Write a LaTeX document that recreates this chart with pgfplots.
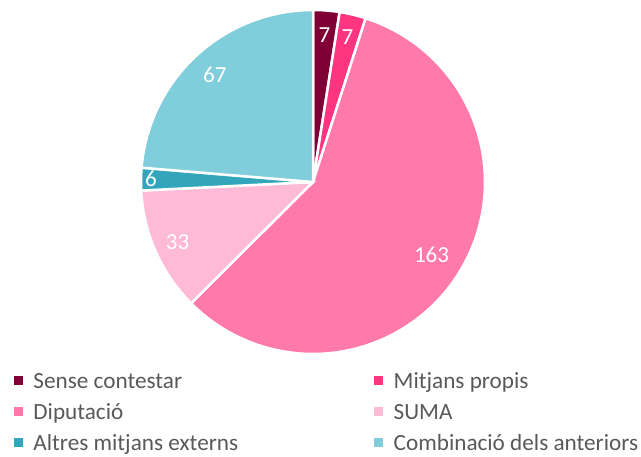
\documentclass[border=0pt]{standalone}
\usepackage{pgfplots}
\usepackage{pgfplotstable}
\pgfplotsset{compat=1.18}
\usepackage{fontspec}
\setmainfont{Carlito}
\definecolor{cA}{HTML}{7E0035}
\definecolor{cB}{HTML}{FF3581}
\definecolor{cC}{HTML}{FF7AAA}
\definecolor{cD}{HTML}{FFBAD6}
\definecolor{cE}{HTML}{34A6BB}
\definecolor{cF}{HTML}{80CDDB}
\definecolor{txt}{HTML}{595959}

\pgfplotstableread{
value
7
7
163
33
6
67
}\piedata

\newcommand\cx{313}
\newcommand\cy{275}
\newcommand\rad{172}

\begin{document}
\begin{tikzpicture}
% totals and angles from the table
\xdef\total{0}
\foreach \i in {0,...,5}{%
  \pgfplotstablegetelem{\i}{value}\of\piedata
  \pgfmathparse{\total+\pgfplotsretval}\xdef\total{\pgfmathresult}}
\xdef\cum{0}
\foreach \i/\n in {0/A,1/B,2/C,3/D,4/E,5/F}{%
  \pgfplotstablegetelem{\i}{value}\of\piedata
  \expandafter\xdef\csname val\n\endcsname{\pgfplotsretval}%
  \pgfmathparse{90-360*(\cum/\total)}\expandafter\xdef\csname aS\n\endcsname{\pgfmathresult}%
  \pgfmathparse{\cum+\pgfplotsretval}\xdef\cum{\pgfmathresult}%
  \pgfmathparse{90-360*(\cum/\total)}\expandafter\xdef\csname aE\n\endcsname{\pgfmathresult}%
  \pgfmathparse{(\csname aS\n\endcsname+\csname aE\n\endcsname)/2}\expandafter\xdef\csname aM\n\endcsname{\pgfmathresult}%
}
\newcommand\slice[4]{%
  \addplot[fill=#1, draw=white, line width=2.5bp, domain=#3:#2, samples=80, variable=\t]
    ({\cx+\rad*cos(\t)}, {\cy+\rad*sin(\t)}) -- (axis cs:\cx,\cy) -- cycle;
  \addlegendentry{#4}}
\newcommand\plabel[3]{%
  \node[text=white, font=\fontsize{23bp}{26bp}\selectfont, anchor=center, inner sep=0pt]
    at (axis cs:{\cx+#3*cos(#1)},{\cy+#3*sin(#1)}) {#2};}
\begin{axis}[
  hide axis, scale only axis, width=641bp, height=457bp,
  xmin=0, xmax=641, ymin=0, ymax=457, clip=false,
  legend columns=2, legend cell align=left,
  legend image code/.code={\fill[#1, draw=none] (0bp,3.5bp) rectangle (9bp,12.5bp); \path (18bp,0bp);},
  legend style={at={(axis cs:14,457-371)}, anchor=north west, draw=none, fill=none,
    inner sep=0pt, font=\fontsize{23.2bp}{26bp}\selectfont, text=txt,
    /tikz/every even column/.append style={column sep=0bp},
    /tikz/every odd column/.append style={column sep=0bp},
    row sep=9bp,
    nodes={inner sep=0bp, text height=17bp, text depth=5bp, anchor=base west}},
]
\path (axis cs:0,0) (axis cs:641,457);
\slice{cA}{\aSA}{\aEA}{\makebox[341bp][l]{Sense contestar}}
\slice{cB}{\aSB}{\aEB}{Mitjans propis}
\slice{cC}{\aSC}{\aEC}{\makebox[341bp][l]{Diputació}}
\slice{cD}{\aSD}{\aED}{SUMA}
\slice{cE}{\aSE}{\aEE}{\makebox[341bp][l]{Altres mitjans externs}}
\slice{cF}{\aSF}{\aEF}{Combinació dels anteriors}
\plabel{\aMA}{\valA}{147}
\plabel{\aMB}{\valB}{149}
\plabel{\aMC}{\valC}{139}
\plabel{\aMD}{\valD}{148}
\plabel{\aME}{\valE}{162}
\plabel{\aMF}{\valF}{145}
\end{axis}
\end{tikzpicture}
\end{document}
